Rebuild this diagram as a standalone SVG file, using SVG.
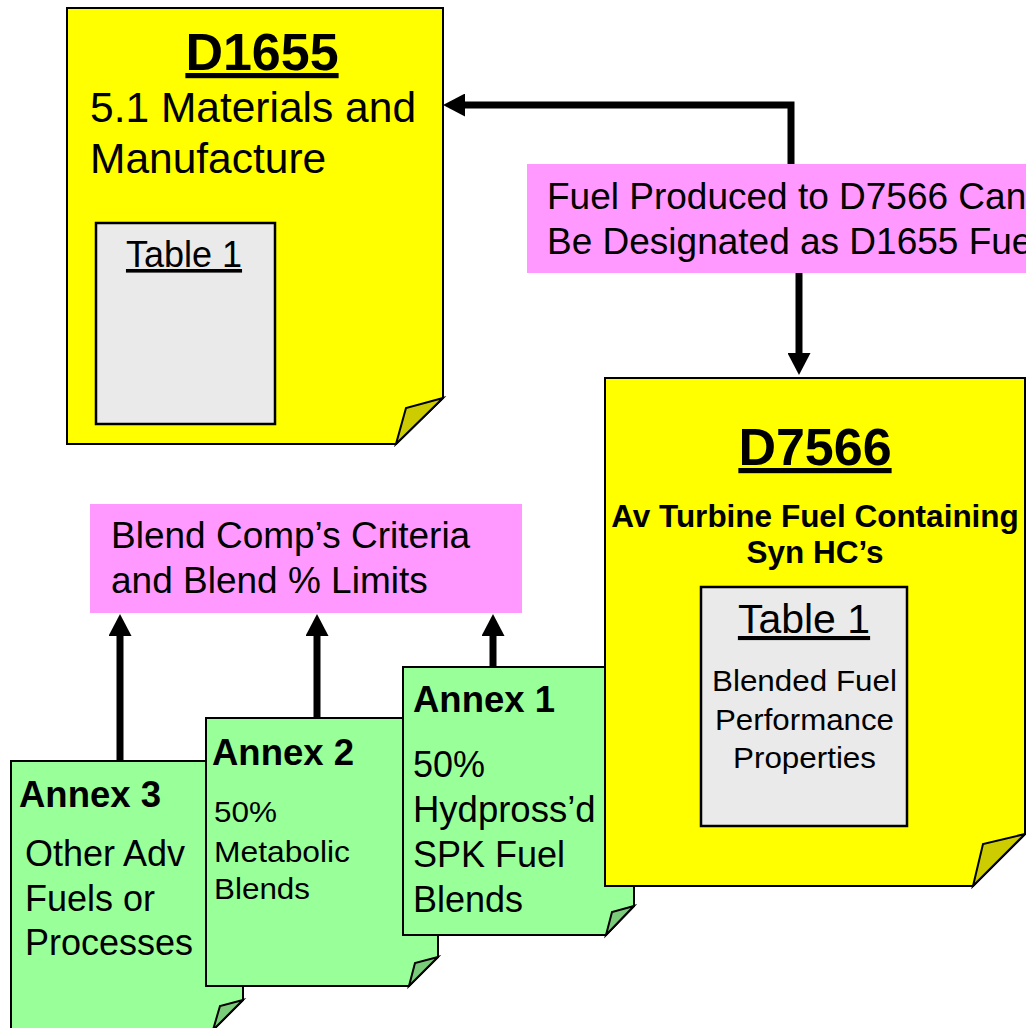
<svg xmlns="http://www.w3.org/2000/svg" width="1026" height="1028" viewBox="0 0 1026 1028">
<defs>
<style>
text{font-family:"Liberation Sans",Arial,sans-serif;fill:#000}
.b{font-weight:bold}
.u{text-decoration:underline}
.m{text-anchor:middle}
.doc{stroke:#000;stroke-width:2;stroke-linejoin:miter}
.yel{fill:#FFFF00}
.yfold{fill:#CCCC00}
.grn{fill:#99FF99}
.gfold{fill:#7ACC7A}
.pink{fill:#FF99FF}
.tbl{fill:#EAEAEA;stroke:#000;stroke-width:2.5}
.conn{fill:none;stroke:#000;stroke-width:7;marker-end:url(#ah)}
</style>
<marker id="ah" viewBox="0 0 22 23" refX="0" refY="11.5" markerWidth="22" markerHeight="23" markerUnits="userSpaceOnUse" orient="auto">
<path d="M0,0 L22,11.5 L0,23 Z" fill="#000"/>
</marker>
</defs>
<rect width="1026" height="1028" fill="#fff"/>

<g id="d1655">
<path class="doc yel" d="M67,8 H443 V398 L396,444 H67 Z"/>
<path class="doc yfold" d="M443,398 L406,408 L396,444 Z"/>
<text class="b u m" x="262" y="70" font-size="52">D1655</text>
<text x="90" y="122" font-size="42.5">5.1 Materials and</text>
<text x="90" y="173" font-size="42.5">Manufacture</text>
<rect class="tbl" x="96" y="223" width="179" height="201"/>
<text class="u m" x="184" y="267" font-size="36">Table 1</text>
</g>

<g id="note-top">
<rect class="pink" x="527" y="164" width="499" height="109"/>
<text x="547" y="209" font-size="37">Fuel Produced to D7566 Can</text>
<text x="547" y="254" font-size="37">Be Designated as D1655 Fuel</text>
</g>

<g id="note-blend">
<rect class="pink" x="90" y="504" width="432" height="109"/>
<text x="111" y="548" font-size="37">Blend Comp’s Criteria</text>
<text x="111" y="593" font-size="37">and Blend % Limits</text>
</g>

<g id="annex3">
<path class="doc grn" d="M11,761 H243 V1000 L213,1030 H11 Z"/>
<path class="doc gfold" d="M243,1000 L220,1006 L213,1030 Z"/>
<text class="b" x="19" y="807" font-size="36.5">Annex 3</text>
<text x="25" y="866" font-size="36">Other Adv</text>
<text x="25" y="911" font-size="36">Fuels or</text>
<text x="25" y="955" font-size="36">Processes</text>
</g>

<g id="annex2">
<path class="doc grn" d="M206,718 H438 V957 L409,986 H206 Z"/>
<path class="doc gfold" d="M438,957 L415,963 L409,986 Z"/>
<text class="b" x="212" y="765" font-size="36.5">Annex 2</text>
<text x="214" y="822" font-size="29" textLength="63" lengthAdjust="spacingAndGlyphs">50%</text>
<text x="214" y="862" font-size="29" textLength="136" lengthAdjust="spacingAndGlyphs">Metabolic</text>
<text x="214" y="899" font-size="29" textLength="96" lengthAdjust="spacingAndGlyphs">Blends</text>
</g>

<g id="annex1">
<path class="doc grn" d="M403,667 H634 V906 L606,935 H403 Z"/>
<path class="doc gfold" d="M634,906 L612,912 L606,935 Z"/>
<text class="b" x="413" y="712" font-size="36.5">Annex 1</text>
<text x="413" y="777" font-size="36">50%</text>
<text x="413" y="822" font-size="36.5">Hydpross’d</text>
<text x="413" y="867" font-size="36">SPK Fuel</text>
<text x="413" y="912" font-size="36">Blends</text>
</g>

<g id="d7566">
<path class="doc yel" d="M605,378 H1025 V834 L973,886 H605 Z"/>
<path class="doc yfold" d="M1025,834 L983,844 L973,886 Z"/>
<text class="b u m" x="815" y="465" font-size="52">D7566</text>
<text class="b m" x="815" y="527" font-size="31.5">Av Turbine Fuel Containing</text>
<text class="b m" x="815" y="563" font-size="31.5">Syn HC’s</text>
<rect class="tbl" x="701" y="587" width="206" height="239"/>
<text class="u m" x="804" y="633" font-size="41">Table 1</text>
<text class="m" x="804.5" y="691" font-size="29" textLength="185" lengthAdjust="spacingAndGlyphs">Blended Fuel</text>
<text class="m" x="804.5" y="730" font-size="29" textLength="179" lengthAdjust="spacingAndGlyphs">Performance</text>
<text class="m" x="804.5" y="768" font-size="29" textLength="143" lengthAdjust="spacingAndGlyphs">Properties</text>
</g>

<g id="connectors">
<polyline class="conn" points="791,164 791,105 465,105"/>
<line class="conn" x1="799" y1="273" x2="799" y2="353"/>
<line class="conn" x1="120" y1="761" x2="120" y2="636"/>
<line class="conn" x1="317" y1="718" x2="317" y2="636"/>
<line class="conn" x1="493" y1="667" x2="493" y2="636"/>
</g>
</svg>
